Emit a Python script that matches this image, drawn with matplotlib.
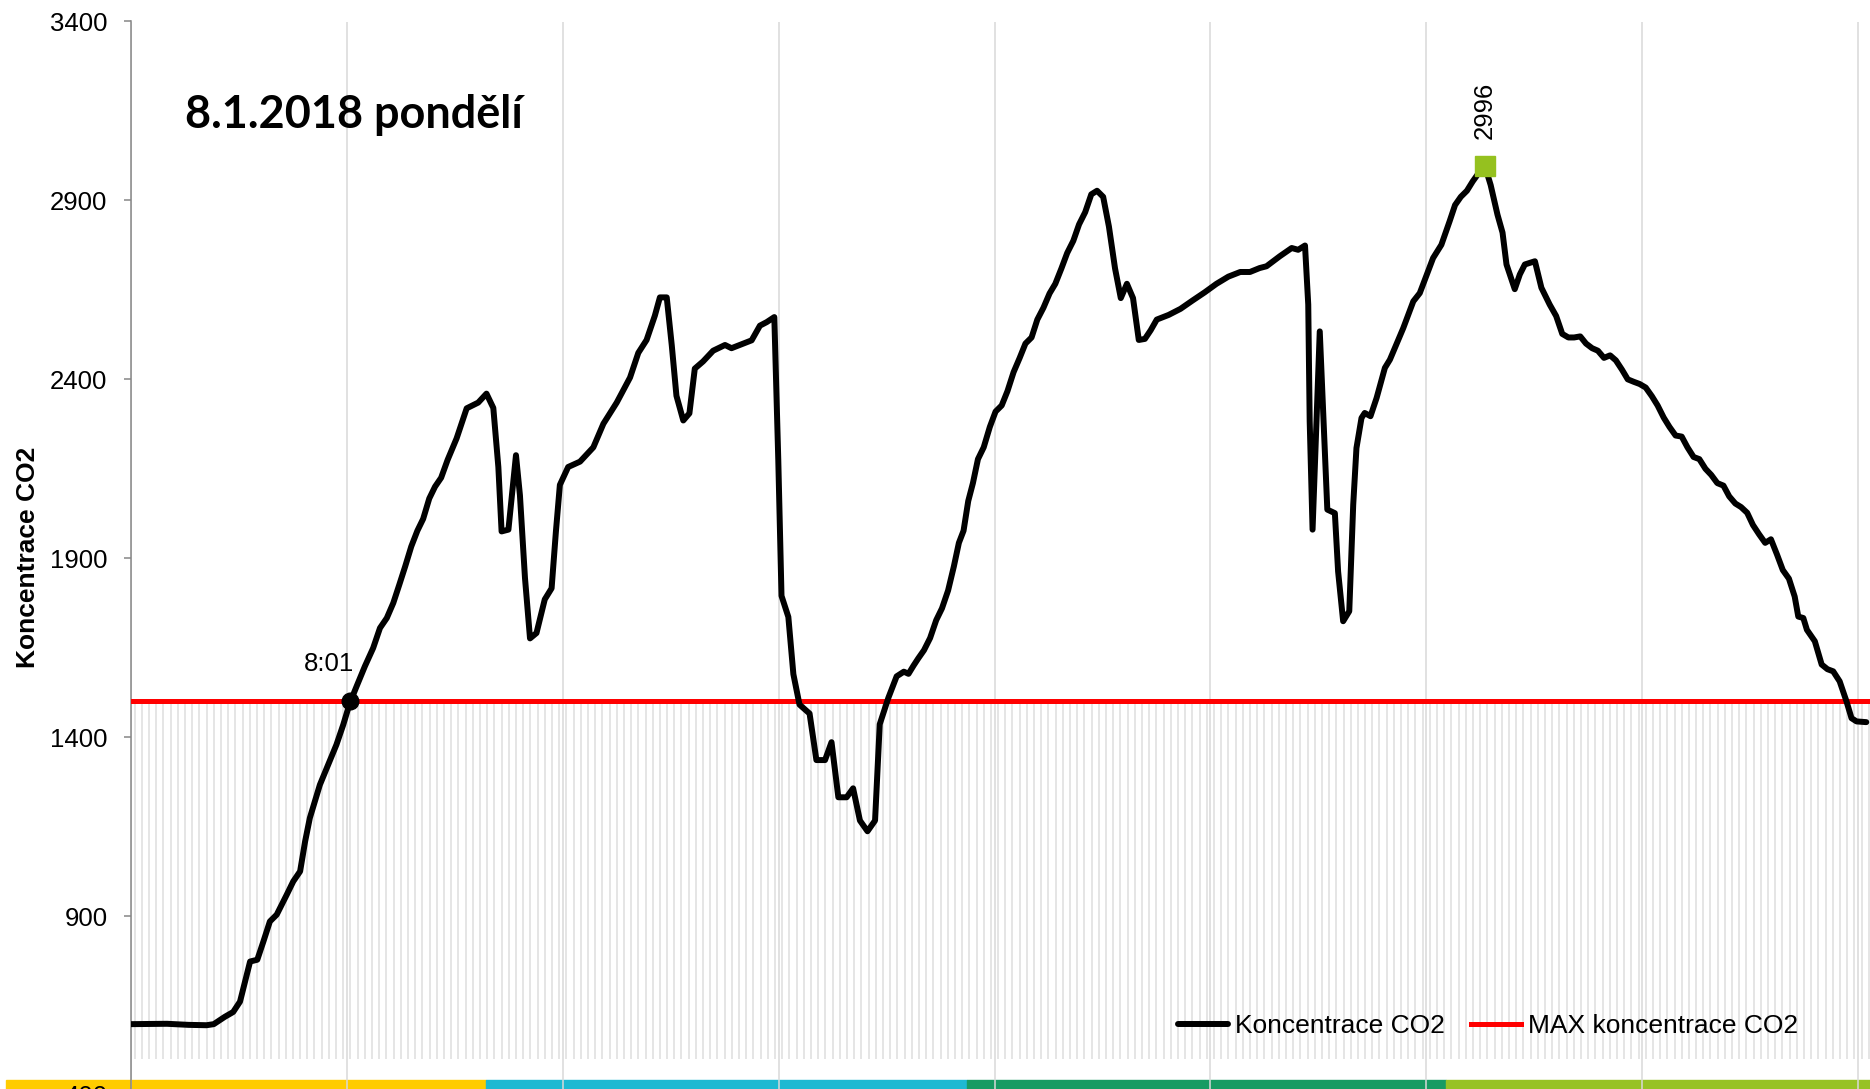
import matplotlib.pyplot as plt
import numpy as np

plt.rcParams['font.family'] = ['Liberation Sans', 'DejaVu Sans']

# cas v minutach od 7:00 a namerena koncentrace CO2 (ppm)
cas_min = [0, 10, 16, 21, 23, 26, 28.4, 30.3, 31.7, 33.1,
           35.1, 36.8, 38.6, 40.5, 43.3, 45.1, 47, 48.4, 49.7, 52.5,
           54.8, 57.1, 59, 60.8, 62.7, 65, 67.3, 69.2, 71.1, 72.9,
           74.6, 76.2, 77.9, 79.6, 81.2, 82.9, 84.5, 86.2, 88, 90.5,
           93.3, 96.5, 98.8, 100.7, 102.1, 103, 104.9, 107, 108.1, 109.5,
           110.9, 112.7, 115, 116.9, 118.1, 119.2, 121.5, 124.8, 128.5, 131.3,
           135, 138.7, 141, 143.3, 145.6, 147, 148.9, 150.3, 151.6, 153.5,
           155.2, 156.7, 159, 161.8, 165.1, 166.9, 169.2, 172.5, 174.8, 176.7,
           178.8, 179.9, 180.8, 182.7, 184.1, 185.8, 188.6, 190.5, 192.9, 194.7,
           196.6, 198.9, 200.7, 202.6, 204.7, 206.8, 208.1, 210.5, 212.8, 214.8,
           216.1, 217.5, 218.8, 220.4, 222.1, 223.8, 225.4, 227.1, 228.7, 230.1,
           231.4, 232.7, 234, 235.4, 237, 238.7, 240.3, 242, 243.6, 245.3,
           247, 248.6, 250.3, 251.9, 253.6, 255.3, 256.9, 258.6, 260.2, 261.9,
           263.5, 265.2, 266.9, 268.5, 270.2, 271.8, 273.5, 275.1, 276.8, 278.5,
           280.1, 281.8, 283.4, 285.1, 288.4, 291.7, 295, 298.4, 301.7, 305,
           308.3, 311, 313.7, 315.6, 319.3, 322.6, 324.4, 326.3, 327.2, 327.6,
           328.4, 329.5, 330.4, 331.3, 332.5, 334.6, 335.5, 336.9, 338.6, 339.7,
           340.6, 342, 342.9, 344.5, 346.2, 348.5, 349.9, 353.6, 356.4, 358.2,
           361.9, 364.2, 366.5, 368, 369.6, 371.3, 372.9, 374.6, 376.3, 377.9,
           379.8, 381.2, 382.3, 384.6, 386, 387.4, 390.2, 392, 394.3, 396.1,
           397.8, 399.5, 401.1, 402.8, 404.4, 406.1, 407.7, 409.4, 411.1, 412.7,
           414.4, 416, 417.7, 419.3, 421, 422.7, 424.3, 426, 427.6, 429.3,
           431, 432.6, 434.3, 435.9, 437.6, 439.2, 440.9, 442.6, 444.2, 445.9,
           447.5, 449.2, 450.8, 452.5, 454.2, 455.8, 457.5, 459.1, 460.8, 462.4,
           463.4, 464.8, 465.8, 468, 469.9, 471.5, 473.1, 474.9, 476.8, 478.2,
           479.6, 482.3]

co2 = [598, 599, 596, 595, 598, 618, 632, 661, 717, 773,
       778, 829, 885, 904, 960, 997, 1025, 1109, 1174, 1267,
       1323, 1379, 1435, 1495, 1542, 1598, 1649, 1705, 1733, 1775,
       1827, 1877, 1933, 1977, 2010, 2067, 2100, 2125, 2175, 2235,
       2319, 2335, 2360, 2320, 2155, 1975, 1980, 2188, 2076, 1845,
       1676, 1691, 1785, 1816, 1975, 2105, 2155, 2170, 2210, 2276,
       2335, 2405, 2474, 2510, 2578, 2629, 2629, 2495, 2354, 2285,
       2305, 2430, 2450, 2480, 2496, 2487, 2496, 2509, 2550, 2560,
       2574, 2176, 1795, 1736, 1576, 1491, 1466, 1336, 1336, 1386,
       1232, 1232, 1257, 1167, 1137, 1167, 1436, 1510, 1570, 1583,
       1577, 1600, 1620, 1643, 1677, 1727, 1760, 1810, 1877, 1943,
       1977, 2060, 2110, 2177, 2210, 2267, 2310, 2327, 2367, 2420,
       2460, 2500, 2517, 2567, 2600, 2640, 2667, 2710, 2753, 2787,
       2833, 2867, 2917, 2927, 2910, 2827, 2710, 2627, 2667, 2627,
       2510, 2513, 2537, 2567, 2580, 2597, 2620, 2643, 2667, 2687,
       2700, 2700, 2711, 2716, 2744, 2767, 2762, 2774, 2609, 2283,
       1980, 2283, 2534, 2320, 2036, 2026, 1863, 1724, 1752, 2050,
       2208, 2292, 2306, 2297, 2348, 2432, 2455, 2543, 2618, 2641,
       2739, 2776, 2842, 2887, 2910, 2927, 2953, 2977, 2996, 2943,
       2860, 2810, 2721, 2652, 2693, 2721, 2730, 2656, 2609, 2577,
       2527, 2517, 2517, 2520, 2500, 2487, 2480, 2460, 2467, 2453,
       2427, 2400, 2393, 2387, 2377, 2353, 2327, 2293, 2267, 2243,
       2240, 2210, 2183, 2177, 2150, 2133, 2110, 2103, 2073, 2053,
       2043, 2027, 1993, 1967, 1943, 1953, 1910, 1867, 1843, 1793,
       1737, 1733, 1700, 1668, 1603, 1590, 1584, 1556, 1500, 1453,
       1444, 1442]

max_co2 = 1500
y_ticks = [400, 900, 1400, 1900, 2400, 2900, 3400]
hodiny = list(range(0, 481, 60))          # 7:00 ... 15:00
mereni = np.arange(1, 485, 2)             # svisle carky pod limitem (kazde 2 min)

pasy_barvy = ['#FFCC00', '#1EB9D2', '#179B63', '#97C224']
pasy_hranice = [0.003, 0.260, 0.517, 0.773, 1.0]

W, H = 1870, 1089
fig = plt.figure(figsize=(W / 100, H / 100), dpi=100)

# barevny pruh dole
for i, c in enumerate(pasy_barvy):
    fig.patches.append(plt.Rectangle((pasy_hranice[i], 0), pasy_hranice[i + 1] - pasy_hranice[i], 9 / H,
                                     transform=fig.transFigure, color=c, zorder=-1))

ax = fig.add_axes([131 / W, -6 / H, 1745 / W, 1073.5 / H])
ax.set_facecolor('none')
ax.set_xlim(0, 485)
ax.set_ylim(400, 3400)

ax.vlines(mereni, 500, max_co2, color='#e0e0e0', lw=1.2, zorder=1)
ax.plot(cas_min, co2, color='black', lw=4.3, solid_joinstyle='round', solid_capstyle='round',
        zorder=4, label='Koncentrace CO2')
ax.axhline(max_co2, color='#FF0000', lw=3.6, zorder=3, label='MAX koncentrace CO2')

# prvni prekroceni limitu
t = np.array(cas_min, dtype=float)
v = np.array(co2, dtype=float)
i = int(np.argmax(v >= max_co2))
t_cross = t[i - 1] + (max_co2 - v[i - 1]) / (v[i] - v[i - 1]) * (t[i] - t[i - 1])
ax.plot(t_cross, max_co2, 'o', color='black', ms=12, zorder=5)
m = int(t_cross)
ax.annotate(f'{7 + m // 60}:{m % 60:02d}', (t_cross, max_co2), xytext=(-15.3, 26.6),
            textcoords='offset points', ha='center', va='center', fontsize=18.5)

# maximum
j = int(np.argmax(v))
ax.plot(t[j], v[j], 's', color='#95C11F', ms=14.4, zorder=6)
ax.annotate(f'{int(v[j])}', (t[j], v[j]), xytext=(0, 40), textcoords='offset points',
            ha='center', va='center', rotation=90, fontsize=18.5)

ax.set_yticks(y_ticks)
ax.set_xticks(hodiny)
ax.set_xticklabels([])
ax.tick_params(axis='x', length=0)
ax.tick_params(axis='y', length=5, width=1.1, color='#868686', pad=12, labelsize=18.5)
for s in ['top', 'right', 'bottom']:
    ax.spines[s].set_visible(False)
ax.spines['left'].set_color('#868686')
ax.spines['left'].set_linewidth(1.1)
ax.grid(axis='x', color='#d9d9d9', lw=1.1)
ax.set_axisbelow(True)

fig.text(28 / W, 1 - 557 / H, 'Koncentrace CO2', rotation=90, ha='center', va='center',
         fontsize=19, fontweight='bold')
fig.text(185 / W, 1 - 128.2 / H, '8.1.2018 pondělí', fontsize=32.4, fontweight='bold',
         family=['Lato', 'DejaVu Sans'], va='baseline')

ax.legend(loc='center left', bbox_to_anchor=(1178 / W, 1 - 1026 / H), bbox_transform=fig.transFigure,
          ncol=2, frameon=False, fontsize=19, handlelength=1.9, handletextpad=0.25,
          columnspacing=1.0, borderpad=0, borderaxespad=0)

fig.savefig('out.png', dpi=100)
